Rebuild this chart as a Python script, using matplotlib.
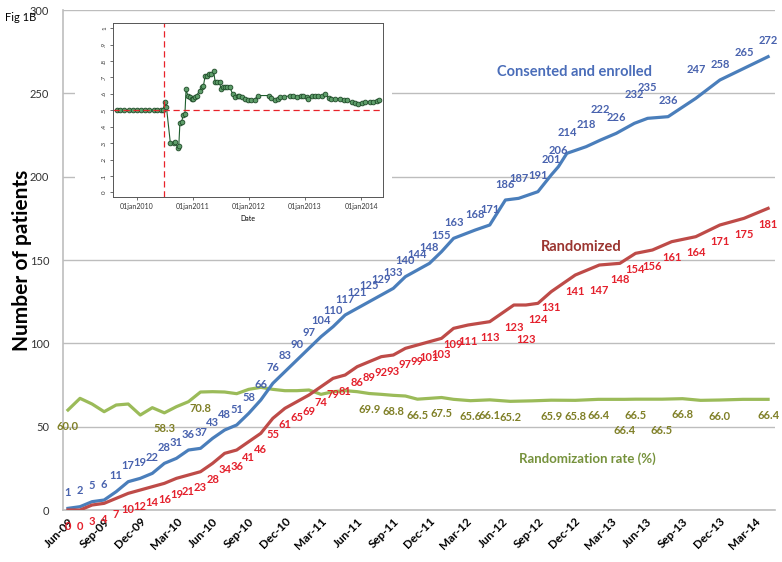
import matplotlib.pyplot as plt
from matplotlib.patches import Rectangle

plt.rcParams['font.family'] = ['Lato', 'DejaVu Sans']

# months since Jun-09
blue_m = [0, 1, 2, 3, 4, 5, 6, 7, 8, 9, 10, 11, 12, 13, 14, 15, 16, 17, 18, 19, 20,
          21, 22, 23, 24, 25, 26, 27, 28, 29, 30, 31, 32, 33.8, 35, 36.3, 37.4, 39,
          40.1, 40.7, 41.4, 43, 44.2, 45.5, 47, 48.1, 49.8, 52.1, 54.1, 56.1, 58.1]
blue_n = [1, 2, 5, 6, 11, 17, 19, 22, 28, 31, 36, 37, 43, 48, 51, 58, 66, 76, 83, 90, 97,
          104, 110, 117, 121, 125, 129, 133, 140, 144, 148, 155, 163, 168, 171, 186, 187, 191,
          201, 206, 214, 218, 222, 226, 232, 235, 236, 247, 258, 265, 272]

red_m = [0, 1, 2, 3, 4, 5, 6, 7, 8, 9, 10, 11, 12, 13, 14, 15, 16, 17, 18, 19, 20,
         21, 22, 23, 24, 25, 26, 27, 28, 29, 30, 31, 32, 33.2, 35, 37, 38, 39,
         40.1, 42.1, 44.1, 45.8, 47.1, 48.5, 50.1, 52.1, 54.1, 56.1, 58.1]
red_n = [0, 0, 3, 4, 7, 10, 12, 14, 16, 19, 21, 23, 28, 34, 36, 41, 46, 55, 61, 65, 69,
         74, 79, 81, 86, 89, 92, 93, 97, 99, 101, 103, 109, 111, 113, 123, 123, 124,
         131, 141, 147, 148, 154, 156, 161, 164, 171, 175, 181]

green_m = [0, 1, 2, 3, 4, 5, 6, 7, 8, 9, 10, 11, 12, 13, 14, 15, 16, 17, 18, 19, 20,
           21, 22, 23, 24, 25, 26, 27, 28, 29, 30, 31, 32, 33.4, 35, 36.7, 38.5, 40.1,
           42.1, 44, 46.2, 47.1, 49.3, 51, 52.5, 54.1, 56, 58.1]
green_r = [60.0, 67.0, 63.6, 59.0, 63.0, 63.6, 57.0, 61.4, 58.3, 62.0, 65.0, 70.8, 71.0,
           70.8, 69.8, 72.4, 73.6, 72.4, 71.6, 71.6, 72.0, 69.4, 71.0, 71.6, 71.0, 69.9,
           69.4, 68.8, 68.4, 66.5, 67.0, 67.5, 66.4, 65.6, 66.1, 65.2, 65.5, 65.9, 65.8,
           66.4, 66.4, 66.5, 66.5, 66.8, 65.8, 66.0, 66.4, 66.4]
green_lab_m = [0, 8, 11, 25, 27, 29, 31, 33.4, 35, 36.7, 40.1, 42.1, 44, 46.2, 47.1,
               49.3, 51, 54.1, 58.1]

tick_labels = ["Jun-09", "Sep-09", "Dec-09", "Mar-10", "Jun-10", "Sep-10", "Dec-10",
               "Mar-11", "Jun-11", "Sep-11", "Dec-11", "Mar-12", "Jun-12", "Sep-12",
               "Dec-12", "Mar-13", "Jun-13", "Sep-13", "Dec-13", "Mar-14"]

# inset: randomization ratio over time (decimal years)
inset_t = [2009.64, 2009.71, 2009.78, 2009.86, 2009.93, 2010.00, 2010.07, 2010.14, 2010.22,
           2010.30, 2010.37, 2010.43, 2010.47, 2010.50, 2010.53, 2010.60, 2010.66, 2010.69,
           2010.73, 2010.75, 2010.77, 2010.80, 2010.83, 2010.86, 2010.88, 2010.91, 2010.95,
           2010.98, 2011.01, 2011.04, 2011.07, 2011.12, 2011.16, 2011.19, 2011.22, 2011.26,
           2011.29, 2011.33, 2011.37, 2011.40, 2011.44, 2011.48, 2011.50, 2011.53, 2011.57,
           2011.61, 2011.66, 2011.71, 2011.76, 2011.80, 2011.83, 2011.87, 2011.93, 2011.99,
           2012.04, 2012.10, 2012.16, 2012.35, 2012.40, 2012.46, 2012.51, 2012.56, 2012.62,
           2012.73, 2012.79, 2012.85, 2012.92, 2012.97, 2013.03, 2013.06, 2013.12, 2013.18,
           2013.23, 2013.30, 2013.36, 2013.42, 2013.46, 2013.53, 2013.62, 2013.69, 2013.75,
           2013.83, 2013.89, 2013.95, 2014.02, 2014.07, 2014.16, 2014.22, 2014.28, 2014.31]
inset_r = [0.50, 0.50, 0.50, 0.50, 0.50, 0.50, 0.50, 0.50, 0.50,
           0.50, 0.50, 0.50, 0.50, 0.55, 0.52, 0.30, 0.30, 0.31,
           0.27, 0.28, 0.42, 0.43, 0.47, 0.48, 0.63, 0.59, 0.58,
           0.57, 0.57, 0.58, 0.59, 0.62, 0.64, 0.65, 0.71, 0.71,
           0.72, 0.72, 0.74, 0.67, 0.67, 0.67, 0.63, 0.64, 0.64,
           0.645, 0.64, 0.60, 0.58, 0.59, 0.59, 0.58, 0.57, 0.565,
           0.565, 0.565, 0.59, 0.59, 0.575, 0.56, 0.57, 0.58, 0.58,
           0.59, 0.585, 0.58, 0.585, 0.585, 0.58, 0.57, 0.585, 0.59,
           0.585, 0.59, 0.60, 0.575, 0.57, 0.57, 0.57, 0.565, 0.56,
           0.55, 0.545, 0.54, 0.545, 0.55, 0.55, 0.55, 0.555, 0.565]
inset_years = [2010, 2011, 2012, 2013, 2014]
cutoff_t = 2010.49

c_blue, c_red, c_green = '#4A7EBB', '#BE4B48', '#9BBB59'
c_blue_txt, c_red_txt, c_green_txt = '#4862AE', '#E4202C', '#7F7F26'

fig = plt.figure(figsize=(7.82, 5.62), dpi=100)
ax = fig.add_axes([0.0806, 0.0925, 0.9104, 0.8897])

ax.plot(blue_m, blue_n, color=c_blue, lw=2.3, zorder=3)
ax.plot(red_m, red_n, color=c_red, lw=2.3, zorder=3)
ax.plot(green_m, green_r, color=c_green, lw=2.3, zorder=2)

# data labels (offsets in pixels)
blue_raise = {41: 22, 40: 21, 36: 20, 42: 31, 44: 29, 45: 31, 47: 29, 51: 22}
for i, (m, n) in enumerate(zip(blue_m, blue_n)):
    ax.annotate(str(n), (m, n), xytext=(0, blue_raise.get(i, 16)), textcoords='offset pixels',
                ha='center', va='center', fontsize=8, fontweight='bold', color=c_blue_txt, zorder=5)

red_drop = {35: 22, 36: 34, 40: 25}
for i, (m, n) in enumerate(zip(red_m, red_n)):
    ax.annotate(str(n), (m, n), xytext=(0, -red_drop.get(i, 16)), textcoords='offset pixels',
                ha='center', va='center', fontsize=8, fontweight='bold', color=c_red_txt, zorder=5)

green_val = dict(zip(green_m, green_r))
green_low = {46.2: 31, 49.3: 31}
for m in green_lab_m:
    ax.annotate(f"{green_val[m]:.1f}", (m, green_val[m]), xytext=(0, -green_low.get(m, 16)),
                textcoords='offset pixels', ha='center', va='center', fontsize=8,
                fontweight='bold', color=c_green_txt, zorder=5)

ax.text(42.0, 263, "Consented and enrolled", color='#4A6DB9', fontsize=10.5,
        fontweight='bold', ha='center', va='center')
ax.text(42.6, 158, "Randomized", color='#9B3530', fontsize=10.5,
        fontweight='bold', ha='center', va='center')
ax.text(43.1, 31, "Randomization rate (%)", color='#76923C', fontsize=9.5,
        fontweight='bold', ha='center', va='center')

ax.set_xlim(-0.41, 58.67)
ax.set_ylim(0, 300)
ax.set_yticks(range(0, 301, 50))
ax.set_xticks(range(0, 58, 3))
ax.set_xticklabels(tick_labels, rotation=45, ha='right', rotation_mode='anchor',
                   fontsize=8.5, fontweight='bold')
ax.tick_params(axis='x', length=0, pad=4)
ax.tick_params(axis='y', length=0, pad=10, labelsize=8, labelcolor='#333333')
ax.grid(axis='y', color='#BDBDBD', lw=1)
ax.set_axisbelow(True)
for s in ['top', 'right']:
    ax.spines[s].set_visible(False)
for s in ['left', 'bottom']:
    ax.spines[s].set_color('#BDBDBD')
    ax.spines[s].set_linewidth(1.2)
ax.set_ylabel("Number of patients", fontsize=15, fontweight='bold')
ax.yaxis.set_label_coords(-0.043, 0.5)

fig.text(0.007, 0.969, "Fig 1B", fontsize=8, ha='left', va='center')

# white backing of the pasted inset picture
fig.patches.append(Rectangle((0.0959, 0.587), 0.405, 0.388, transform=fig.transFigure,
                             facecolor='white', edgecolor='none', zorder=1))

axi = fig.add_axes([0.1441, 0.6495, 0.3453, 0.309], zorder=3)
axi.plot(inset_t, inset_r, color='#1E5E2E', lw=0.8, marker='o', markersize=3.4,
         markerfacecolor='#5E9E6A', markeredgecolor='#1E4A28', markeredgewidth=0.6)
axi.axvline(cutoff_t, color='#E8232A', lw=0.9, ls=(0, (5, 3)))
axi.axhline(0.5, color='#E8232A', lw=0.9, ls=(0, (5, 3)))
axi.set_xlim(2009.572, 2014.385)
axi.set_ylim(-0.028, 1.03)
axi.set_yticks([i / 10 for i in range(11)])
axi.set_yticklabels(['0', '.1', '.2', '.3', '.4', '.5', '.6', '.7', '.8', '.9', '1'],
                    rotation=90, va='center', fontsize=4.5)
axi.set_xticks(inset_years)
axi.set_xticklabels([f"01jan{y}" for y in inset_years], fontsize=5)
axi.set_xlabel("Date", fontsize=5, labelpad=4)
axi.tick_params(length=2, width=0.5, pad=2, colors='#333333')
for s in axi.spines.values():
    s.set_color('#555555')
    s.set_linewidth(0.7)

fig.savefig("out.png", dpi=100)
